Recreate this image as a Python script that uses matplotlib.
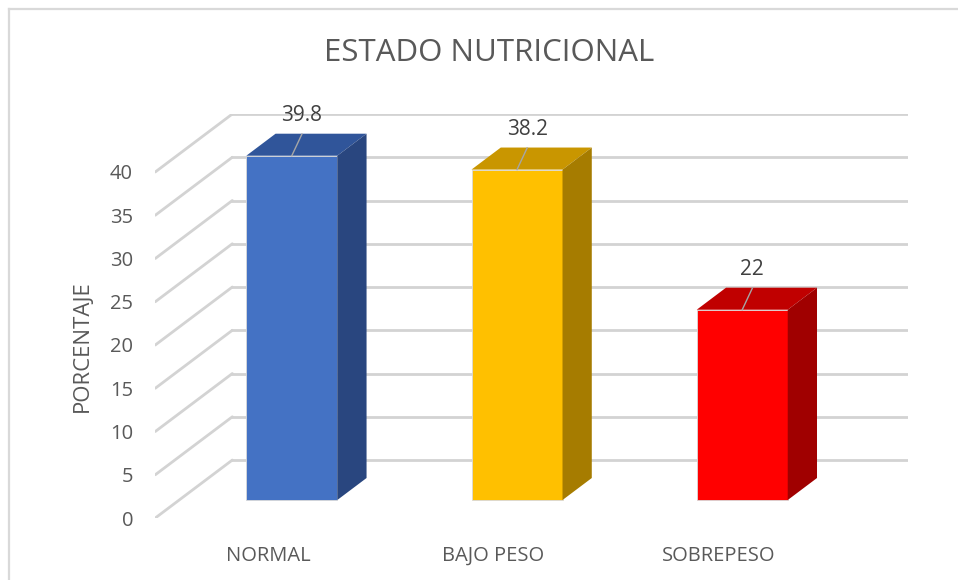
import matplotlib.pyplot as plt
from matplotlib.lines import Line2D

# data
categories = ["NORMAL", "BAJO PESO", "SOBREPESO"]
values = [39.8, 38.2, 22]
labels = ["39.8", "38.2", "22"]
yticks = [0, 5, 10, 15, 20, 25, 30, 35, 40]

# colours: front, top, side
front_col = ["#4472C4", "#FFC000", "#FF0000"]
top_col = ["#30559A", "#C99600", "#C00000"]
side_col = ["#29467F", "#A67C00", "#A00000"]

plt.rcParams['font.family'] = ['Open Sans', 'DejaVu Sans']
txt = "#595959"
grid = "#D3D3D3"

# pseudo 3d depth (x in category units, y in percent units)
DX, DY = 0.342, 6.7
f0, f1 = 0.31, 0.69     # depth of bar front / back face
w = 0.404               # bar width

W, H = 958, 580
fig = plt.figure(figsize=(W / 100, H / 100), dpi=100)
ax = fig.add_axes([155.3 / W, 62 / H, (908 - 155.3) / W, 404 / H])
ax.set_xlim(-0.5, 2.5 + DX)
ax.set_ylim(0, 40 + DY)
for s in ax.spines.values():
    s.set_visible(False)

# walls: diagonal floor/side lines and back gridlines
for v in yticks:
    ax.plot([-0.5, -0.5 + DX], [v, v + DY], color=grid, lw=2, solid_capstyle='round', zorder=1)
    ax.plot([-0.5 + DX, 2.5 + DX], [v + DY, v + DY], color=grid, lw=2, zorder=1)

# bars
for i, v in enumerate(values):
    x0 = i + f0 * DX - w / 2
    x1 = x0 + w
    y0 = f0 * DY
    ddx, ddy = (f1 - f0) * DX, (f1 - f0) * DY
    ax.bar(i + f0 * DX, v, width=w, bottom=y0, color=front_col[i],
           edgecolor="#D9D9D9", linewidth=0.6, zorder=3)
    ax.fill([x0, x1, x1 + ddx, x0 + ddx], [y0 + v, y0 + v, y0 + v + ddy, y0 + v + ddy],
            color=top_col[i], zorder=3, lw=0)
    ax.fill([x1, x1 + ddx, x1 + ddx, x1], [y0, y0 + ddy, y0 + v + ddy, y0 + v],
            color=side_col[i], zorder=3, lw=0)
    # data label with leader line
    xc = i + f0 * DX
    ax.plot([xc, xc + 0.045], [y0 + v, y0 + v + 2.5], color="#A6A6A6", lw=1, zorder=4)
    ax.text(xc + 0.045, y0 + v + 4.6, labels[i], ha='center', va='center',
            fontsize=15, color="#404040", zorder=5)

ax.set_yticks(yticks)
ax.set_yticklabels([str(t) for t in yticks])
ax.set_xticks(range(len(categories)))
ax.set_xticklabels(categories)
ax.tick_params(axis='y', length=0, pad=16, labelsize=14.5, labelcolor=txt)
ax.tick_params(axis='x', length=0, pad=20, labelsize=14.5, labelcolor=txt)
ax.set_ylabel("PORCENTAJE", fontsize=16, color=txt)
ax.yaxis.set_label_coords(-0.0828, 0.426)

fig.text(489 / W, 1 - 53 / H, "ESTADO NUTRICIONAL", ha='center', va='center',
         fontsize=22.5, color=txt)

# chart border (top and left visible)
fig.add_artist(Line2D([8.5 / W, 1], [1 - 8.5 / H, 1 - 8.5 / H], color="#D9D9D9", lw=1.6))
fig.add_artist(Line2D([8.5 / W, 8.5 / W], [0, 1 - 8.5 / H], color="#D9D9D9", lw=1.6))

fig.savefig("out.png", dpi=100)
